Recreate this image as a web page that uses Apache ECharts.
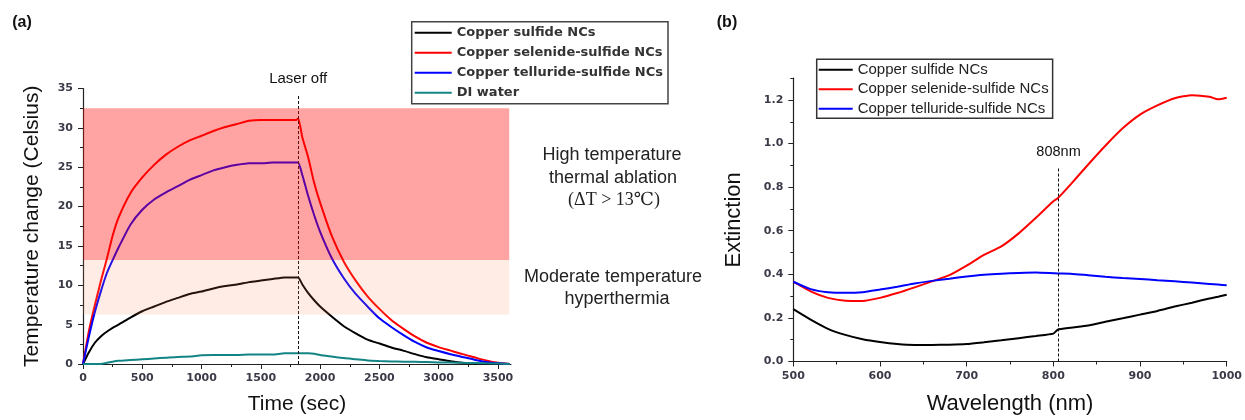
<!DOCTYPE html>
<html>
<head>
<meta charset="utf-8">
<script src="https://cdn.jsdelivr.net/npm/echarts@6/dist/echarts.min.js"></script>
<style>
html,body{margin:0;padding:0;background:#fff;}
#chart{width:1245px;height:420px;}
</style>
</head>
<body>
<div id="chart"></div>
<script>
// ---------- Panel (a): photothermal heating / cooling ----------
const timeSec = [0,50,100,150,200,250,300,400,500,600,700,800,900,1000,1100,1200,1300,1400,1500,1600,1700,1800,1815,1850,1900,1950,2000,2100,2200,2300,2400,2500,2600,2700,2800,2900,3000,3100,3200,3300,3400,3500,3600];
const sulfideTemp   = [0,1.5,2.7,3.5,4.1,4.6,5.0,5.9,6.7,7.3,7.9,8.4,8.9,9.2,9.6,9.9,10.1,10.4,10.6,10.8,11.0,11.0,11.0,10.1,9.0,8.1,7.3,6.0,4.8,3.9,3.1,2.6,2.1,1.7,1.25,0.85,0.6,0.35,0.15,0.05,0.02,0,0];
const selenideTemp  = [0,4.2,7.5,10.5,13.3,16.3,18.6,21.7,23.7,25.3,26.6,27.6,28.4,29.0,29.6,30.1,30.5,30.9,31.0,31.0,31.0,31.0,31.2,28.8,26.2,23.0,20.5,16.2,13.0,10.6,8.6,7.0,5.6,4.5,3.5,2.7,2.15,1.7,1.25,0.85,0.45,0.15,0];
const tellurideTemp = [0,3.5,6.6,9.2,11.5,13.2,14.8,17.7,19.6,20.9,21.8,22.6,23.4,24.0,24.6,25.0,25.3,25.5,25.5,25.6,25.6,25.6,25.6,24.0,21.3,18.9,16.8,13.4,10.9,8.9,7.3,5.8,4.7,3.7,2.8,2.1,1.65,1.25,0.9,0.55,0.25,0.08,0];
const waterTemp     = [0,0,0,0,0.15,0.3,0.4,0.5,0.6,0.7,0.8,0.9,0.95,1.1,1.15,1.15,1.15,1.2,1.2,1.2,1.35,1.35,1.35,1.35,1.35,1.3,1.15,0.95,0.75,0.6,0.45,0.38,0.32,0.3,0.28,0.25,0.2,0.18,0.15,0.12,0.08,0.05,0];
const timeTicks  = [0,500,1000,1500,2000,2500,3000,3500];
const timeMinor  = [250,750,1250,1750,2250,2750,3250];
const tempTicks  = [0,5,10,15,20,25,30,35];
const tempMinor  = [2.5,7.5,12.5,17.5,22.5,27.5,32.5];
const laserOffSec = 1815;
const highBand = [13.2, 32.5];
const moderateBand = [6.3, 13.2];
const bandEndSec = 3595;

// ---------- Panel (b): extinction spectra ----------
const wavelengthNm = [500,520,540,560,580,600,620,640,660,680,700,720,740,760,780,800,805,820,840,860,880,900,920,940,960,980,990,1000];
const sulfideExt   = [0.240,0.192,0.150,0.122,0.102,0.089,0.080,0.076,0.076,0.077,0.080,0.088,0.097,0.107,0.117,0.128,0.146,0.155,0.165,0.182,0.198,0.215,0.232,0.252,0.270,0.289,0.297,0.306];
const selenideExt  = [0.366,0.322,0.292,0.279,0.278,0.292,0.314,0.340,0.368,0.396,0.440,0.489,0.528,0.588,0.660,0.735,0.749,0.813,0.903,0.990,1.070,1.133,1.175,1.208,1.222,1.215,1.203,1.210];
const tellurideExt = [0.366,0.332,0.318,0.315,0.318,0.330,0.343,0.358,0.370,0.380,0.390,0.398,0.403,0.406,0.408,0.405,0.404,0.403,0.396,0.389,0.383,0.379,0.373,0.368,0.362,0.356,0.353,0.350];
const wlTicks  = [500,600,700,800,900,1000];
const wlMinor  = [550,650,750,850,950];
const extTicks = [0,0.2,0.4,0.6,0.8,1.0,1.2];
const extMinor = [0.1,0.3,0.5,0.7,0.9,1.1,1.3];
const laserNm = 806;
const laserLineTop = 0.887;

const names = ['Copper sulfide NCs','Copper selenide-sulfide NCs','Copper telluride-sulfide NCs','DI water'];
const colors = ['#000000','#ff0000','#0000ff','#138484'];

function pairs(xs, ys){ return xs.map((x,i)=>[x, ys[i]]); }

const tickFont = {fontFamily:'DejaVu Sans', fontWeight:'bold', fontSize:11, color:'#3a3a48'};
const AX = '#222';

function mainAxis(opts, ticks, labelFmt, margin){
  return Object.assign({
    type:'value', splitLine:{show:false},
    axisLine:{show:true, onZero:false, lineStyle:{color:AX, width:1.2}},
    axisTick:{show:true, length:5, customValues:ticks, lineStyle:{color:AX, width:1}},
    axisLabel:Object.assign({margin:margin, customValues:ticks, formatter:labelFmt}, tickFont)
  }, opts);
}
function minorAxis(opts, ticks){
  return Object.assign({
    type:'value', splitLine:{show:false},
    axisLine:{show:false, onZero:false},
    axisLabel:{show:false},
    axisTick:{show:true, length:3, customValues:ticks, lineStyle:{color:AX, width:1}}
  }, opts);
}

const chart = echarts.init(document.getElementById('chart'), null, {renderer:'canvas'});

const tempSets = [sulfideTemp, selenideTemp, tellurideTemp, waterTemp];
const extSets = [sulfideExt, selenideExt, tellurideExt];

const series = [];
tempSets.forEach((ys, i) => {
  const s = {
    name: names[i], type:'line', xAxisIndex:0, yAxisIndex:0,
    data: pairs(timeSec, ys), symbol:'none', z:2, smooth:0.2,
    lineStyle:{color:colors[i], width:2}, itemStyle:{color:colors[i]}
  };
  if (i === 0) {
    s.markLine = {
      silent:true, symbol:'none', animation:false,
      lineStyle:{color:'#111', type:[3,2], width:1},
      label:{show:true, position:'end', distance:8, formatter:'Laser off', fontFamily:'Liberation Sans', fontSize:15, color:'#111'},
      data:[[{coord:[laserOffSec,0]},{coord:[laserOffSec,34.2]}]]
    };
  }
  series.push(s);
});
// translucent temperature bands drawn above the curves
series.push({
  type:'line', xAxisIndex:0, yAxisIndex:0, data:[], z:10, silent:true,
  markArea:{
    silent:true, animation:false, z:10,
    data:[
      [{xAxis:0, yAxis:highBand[0], itemStyle:{color:'rgba(255,0,0,0.36)'}},{xAxis:bandEndSec, yAxis:highBand[1]}],
      [{xAxis:0, yAxis:moderateBand[0], itemStyle:{color:'rgba(255,130,80,0.15)'}},{xAxis:bandEndSec, yAxis:moderateBand[1]}]
    ]
  }
});
extSets.forEach((ys, i) => {
  const s = {
    name: names[i], type:'line', xAxisIndex:1, yAxisIndex:1,
    data: pairs(wavelengthNm, ys), symbol:'none', z:2, smooth:0.2,
    lineStyle:{color:colors[i], width:2}, itemStyle:{color:colors[i]}
  };
  if (i === 0) {
    s.markLine = {
      silent:true, symbol:'none', animation:false,
      lineStyle:{color:'#111', type:[3,2], width:1},
      label:{show:true, position:'end', distance:9, formatter:'808nm', fontFamily:'Liberation Sans', fontSize:14.5, color:'#111'},
      data:[[{coord:[laserNm,0]},{coord:[laserNm,laserLineTop]}]]
    };
  }
  series.push(s);
});

const plain = v => String(v);
const oneDec = v => Number(v).toFixed(1);
const nameA = {fontFamily:'Liberation Sans', fontSize:21, color:'#111'};
const nameB = {fontFamily:'Liberation Sans', fontSize:22, color:'#111'};

const option = {
  animation:false,
  backgroundColor:'#ffffff',
  grid:[
    {left:83, top:88.5, width:428, height:278.2, containLabel:false},
    {left:793.3, top:78.2, width:435.7, height:283.3, containLabel:false}
  ],
  xAxis:[
    mainAxis({gridIndex:0, min:0, max:3610, position:'bottom',
      name:'Time (sec)', nameLocation:'middle', nameGap:30, nameTextStyle:nameA}, timeTicks, plain, 9),
    mainAxis({gridIndex:1, min:500, max:1000, position:'bottom',
      name:'Wavelength (nm)', nameLocation:'middle', nameGap:31, nameTextStyle:nameB}, wlTicks, plain, 9),
    minorAxis({gridIndex:0, min:0, max:3610, position:'bottom'}, timeMinor),
    minorAxis({gridIndex:1, min:500, max:1000, position:'bottom'}, wlMinor)
  ],
  yAxis:[
    mainAxis({gridIndex:0, min:0, max:35, position:'left',
      name:'Temperature change (Celsius)', nameLocation:'middle', nameGap:40, nameTextStyle:nameA}, tempTicks, plain, 10),
    mainAxis({gridIndex:1, min:0, max:1.3, position:'left',
      name:'Extinction', nameLocation:'middle', nameGap:48, nameTextStyle:nameB}, extTicks, oneDec, 10),
    minorAxis({gridIndex:0, min:0, max:35, position:'left', offset:0}, tempMinor),
    minorAxis({gridIndex:1, min:0, max:1.3, position:'left', offset:0}, extMinor)
  ],
  legend:[
    {data:names.map(n=>({name:n, icon:'rect'})), orient:'vertical', left:411.7, top:21.7, selectedMode:false,
     itemWidth:37, itemHeight:2, itemGap:6, padding:[4,5,4,3],
     borderColor:'#444', borderWidth:1.5,
     textStyle:{fontFamily:'DejaVu Sans', fontWeight:'bold', fontSize:13, color:'#333', lineHeight:14}},
    {data:names.slice(0,3).map(n=>({name:n, icon:'rect'})), orient:'vertical', left:816.7, top:59.3, selectedMode:false,
     itemWidth:34, itemHeight:2, itemGap:4.5, padding:[3,4,2,2],
     borderColor:'#333', borderWidth:1.5,
     textStyle:{fontFamily:'Liberation Sans', fontSize:15, color:'#222', lineHeight:14}}
  ],
  graphic:[
    {type:'text', x:22, y:23, style:{text:'(a)', align:'center', verticalAlign:'middle', fontFamily:'Liberation Sans', fontWeight:'bold', fontSize:16, fill:'#111'}},
    {type:'text', x:727, y:23, style:{text:'(b)', align:'center', verticalAlign:'middle', fontFamily:'Liberation Sans', fontWeight:'bold', fontSize:16, fill:'#111'}},
    {type:'text', x:612, y:155, style:{text:'High temperature', align:'center', verticalAlign:'middle', fontFamily:'Liberation Sans', fontSize:18, fill:'#222'}},
    {type:'text', x:613, y:178, style:{text:'thermal ablation', align:'center', verticalAlign:'middle', fontFamily:'Liberation Sans', fontSize:18, fill:'#222'}},
    {type:'text', x:614, y:200, style:{text:'(ΔT > 13℃)', align:'center', verticalAlign:'middle', fontFamily:'Liberation Serif, DejaVu Serif', fontSize:18, fill:'#222'}},
    {type:'text', x:613, y:277, style:{text:'Moderate temperature', align:'center', verticalAlign:'middle', fontFamily:'Liberation Sans', fontSize:18, fill:'#222'}},
    {type:'text', x:617, y:299, style:{text:'hyperthermia', align:'center', verticalAlign:'middle', fontFamily:'Liberation Sans', fontSize:18, fill:'#222'}}
  ],
  series: series
};
chart.setOption(option);
</script>
</body>
</html>
